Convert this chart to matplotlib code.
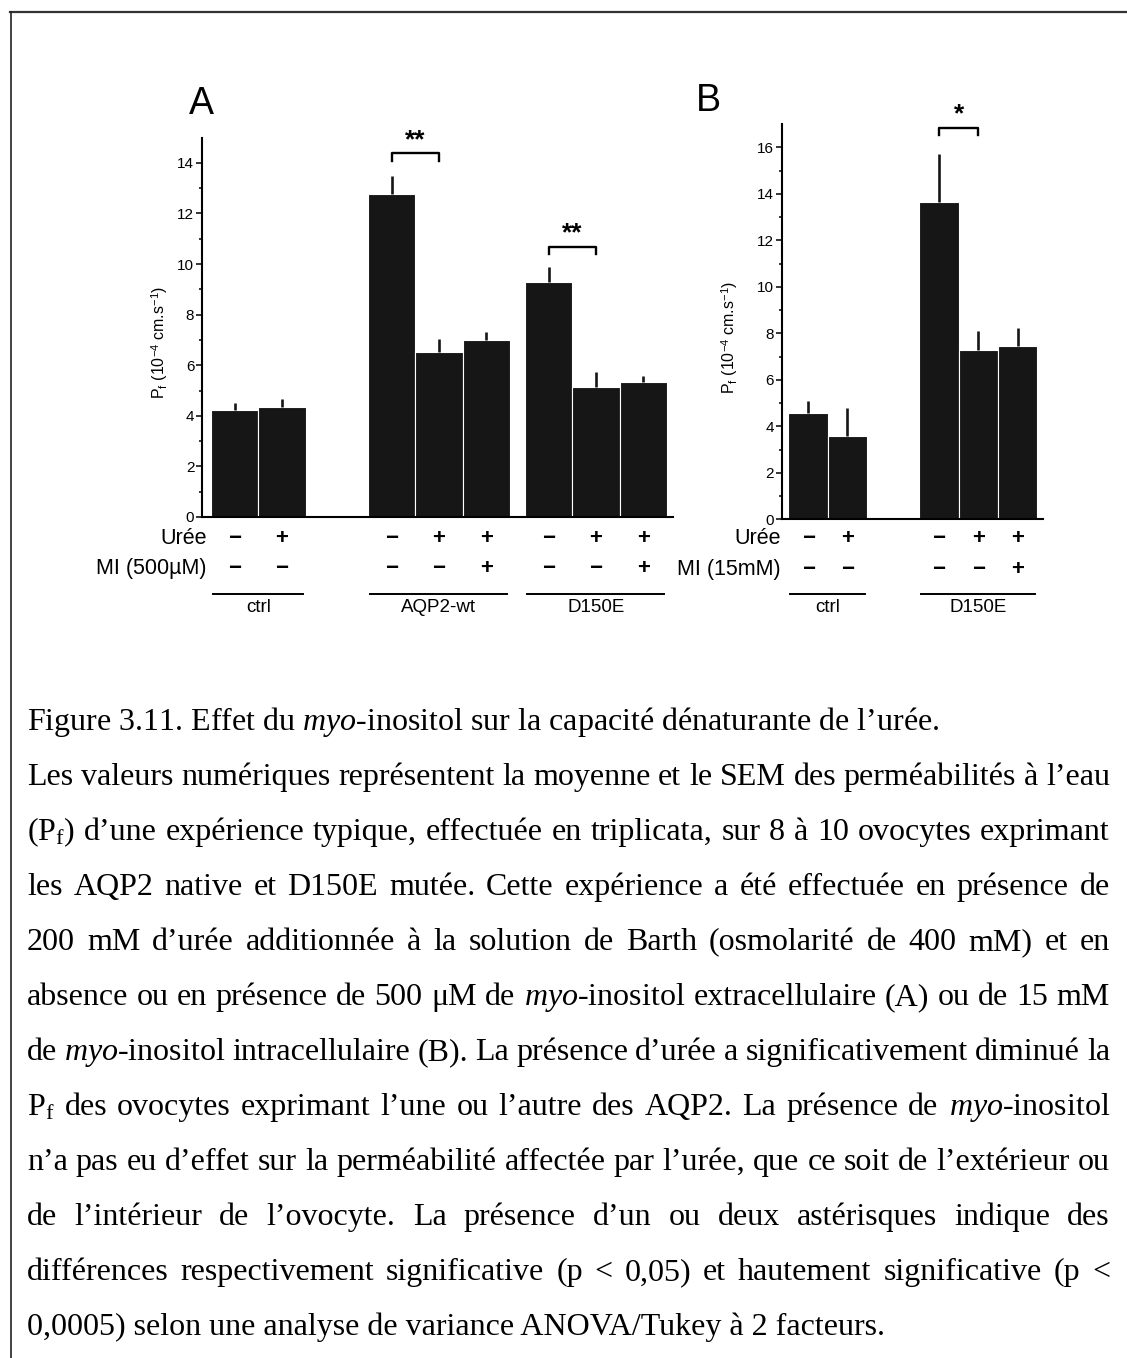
import numpy as np
import matplotlib
matplotlib.use("Agg")
import matplotlib.pyplot as plt
import matplotlib.transforms as mtransforms
from matplotlib.lines import Line2D

plt.rcParams["font.family"] = ["Liberation Sans", "DejaVu Sans"]
plt.rcParams["mathtext.fontset"] = "custom"
plt.rcParams["mathtext.rm"] = "Liberation Serif"
plt.rcParams["mathtext.it"] = "Liberation Serif:italic"

# --- panel A: extracellular myo-inositol (500 uM) ---
groups_a = ["ctrl", "AQP2-wt", "D150E"]
group_sizes_a = [2, 3, 3]
pf_a = [4.22, 4.35, 12.77, 6.53, 6.98, 9.28, 5.15, 5.35]
sem_a = [0.30, 0.30, 0.70, 0.50, 0.35, 0.60, 0.58, 0.22]
uree_a = ["−", "+", "−", "+", "+", "−", "+", "+"]
mi_a = ["−", "−", "−", "−", "+", "−", "−", "+"]
sig_a = [(2, 3, 14.37, "**"), (5, 6, 10.68, "**")]

# --- panel B: intracellular myo-inositol (15 mM) ---
groups_b = ["ctrl", "D150E"]
group_sizes_b = [2, 3]
pf_b = [4.58, 3.58, 13.63, 7.28, 7.45]
sem_b = [0.52, 1.22, 2.08, 0.83, 0.79]
uree_b = ["−", "+", "−", "+", "+"]
mi_b = ["−", "−", "−", "−", "+"]
sig_b = [(2, 3, 16.84, "*")]

caption = [
    r"Figure 3.11. Effet du $\mathit{myo}$-inositol sur la capacité dénaturante de l’urée.",
    "Les valeurs numériques représentent la moyenne et le SEM des perméabilités à l’eau",
    r"(P$_\mathregular{f}$) d’une expérience typique, effectuée en triplicata, sur 8 à 10 ovocytes exprimant",
    "les AQP2 native et D150E mutée. Cette expérience a été effectuée en présence de",
    "200 mM d’urée additionnée à la solution de Barth (osmolarité de 400 mM) et en",
    r"absence ou en présence de 500 μM de $\mathit{myo}$-inositol extracellulaire (A) ou de 15 mM",
    r"de $\mathit{myo}$-inositol intracellulaire (B). La présence d’urée a significativement diminué la",
    r"P$_\mathregular{f}$ des ovocytes exprimant l’une ou l’autre des AQP2. La présence de $\mathit{myo}$-inositol",
    "n’a pas eu d’effet sur la perméabilité affectée par l’urée, que ce soit de l’extérieur ou",
    "de l’intérieur de l’ovocyte. La présence d’un ou deux astérisques indique des",
    "différences respectivement significative (p < 0,05) et hautement significative (p <",
    "0,0005) selon une analyse de variance ANOVA/Tukey à 2 facteurs.",
]

W, H = 1127, 1358
BAR = "#161616"
YLABEL = r"P$_\mathregular{f}$ (10$^{\mathregular{-4}}$ cm.s$^{\mathregular{-1}}$)"

fig = plt.figure(figsize=(W / 100, H / 100), dpi=100)


def fx(px):
    return px / W


def fy(py):
    return 1 - py / H


def positions(sizes, gaps):
    pos, x = [], 0.0
    for n, g in zip(sizes, gaps):
        x += g
        for _ in range(n):
            pos.append(x)
            x += 1
    return np.array(pos)


def bar_panel(ax, x, vals, errs, ymax, ylab_xy):
    ax.bar(x, vals, width=1.0, color=BAR, edgecolor="white", linewidth=0.8, zorder=2)
    ax.vlines(x, vals, np.array(vals) + np.array(errs), color=BAR, lw=1.9, zorder=3)
    ax.set_ylim(0, ymax)
    ax.set_yticks(np.arange(0, ymax, 2))
    ax.set_yticks(np.arange(1, ymax, 2), minor=True)
    ax.set_xticks([])
    for s in ["top", "right"]:
        ax.spines[s].set_visible(False)
    for s in ["left", "bottom"]:
        ax.spines[s].set_linewidth(1.5)
    ax.tick_params(axis="y", which="major", length=4, width=1.1, labelsize=11, pad=1.5)
    ax.tick_params(axis="y", which="minor", length=2.5, width=1.1)
    ax.text(*ylab_xy, YLABEL, transform=ax.transAxes, rotation=90,
            ha="center", va="center", fontsize=11.5)


def significance(ax, x, specs, drop):
    for i, j, y, label in specs:
        ax.plot([x[i], x[i], x[j], x[j]], [y - drop, y, y, y - drop],
                color="black", lw=1.7, clip_on=False)
        off = mtransforms.offset_copy(ax.transData, fig=fig, y=13, units="dots")
        ax.text((x[i] + x[j]) / 2, y, label, transform=off, ha="center",
                va="center", fontsize=19, fontweight="bold", clip_on=False)


def design_rows(ax, x, sizes, names, rows, row_labels, label_right, line_y, name_y):
    tr = mtransforms.blended_transform_factory(ax.transData, fig.transFigure)
    for (signs, ypx), lab in zip(rows, row_labels):
        for xi, s in zip(x, signs):
            ax.text(xi, fy(ypx), s, transform=tr, ha="center", va="center",
                    fontsize=16, fontweight="bold", clip_on=False)
        fig.text(fx(label_right), fy(ypx), lab, ha="right", va="center", fontsize=15.5)
    k = 0
    for n, name in zip(sizes, names):
        x0, x1 = x[k] - 0.45, x[k + n - 1] + 0.45
        ax.add_line(Line2D([x0, x1], [fy(line_y)] * 2, transform=tr, color="black",
                           lw=1.4, clip_on=False))
        ax.text((x0 + x1) / 2, fy(name_y), name, transform=tr, ha="center",
                va="center", fontsize=13.5, clip_on=False)
        k += n


# panel A
xa = positions(group_sizes_a, [0, 1.32, 0.32])
ax_a = fig.add_axes([fx(202), fy(517), fx(471), 379.5 / H])
bar_panel(ax_a, xa, pf_a, sem_a, 15, (-0.091, 0.46))
ax_a.set_xlim(-0.69, 9.27)
significance(ax_a, xa, sig_a, 0.3)
design_rows(ax_a, xa, group_sizes_a, groups_a,
            [(uree_a, 539), (mi_a, 568)], ["Urée", "MI (500µM)"], 207, 594, 607)
fig.text(fx(201), fy(104), "A", ha="center", va="center", fontsize=27)

# panel B
xb = positions(group_sizes_b, [0, 1.32])
ax_b = fig.add_axes([fx(781.7), fy(519.3), fx(261.6), 395.25 / H])
bar_panel(ax_b, xb, pf_b, sem_b, 17, (-0.20, 0.459))
ax_b.set_xlim(-0.67, 5.97)
significance(ax_b, xb, sig_b, 0.31)
design_rows(ax_b, xb, group_sizes_b, groups_b,
            [(uree_b, 539), (mi_b, 569)], ["Urée", "MI (15mM)"], 781, 594, 607)
fig.text(fx(708), fy(101), "B", ha="center", va="center", fontsize=27)

# page frame around the figure
fig.add_artist(Line2D([fx(10), 1], [fy(11.5)] * 2, transform=fig.transFigure,
                      color="#333333", lw=1.6))
fig.add_artist(Line2D([fx(10.5)] * 2, [fy(11.5), 0], transform=fig.transFigure,
                      color="#222222", lw=1.2))

# justified caption block
renderer = fig.canvas.get_renderer()
left, right, base, step = 27, 1110, 730, 55
for n, line in enumerate(caption):
    y = fy(base + n * step)
    style = dict(fontsize=23, family="Liberation Serif", va="baseline", ha="left")
    if n == 0 or n == len(caption) - 1:
        fig.text(fx(left), y, line, **style)
        continue
    words = line.split(" ")
    texts = [fig.text(0, y, w, **style) for w in words]
    widths = [t.get_window_extent(renderer).width for t in texts]
    gap = (right - left - sum(widths)) / (len(words) - 1)
    xpos = left
    for t, w in zip(texts, widths):
        t.set_x(fx(xpos))
        xpos += w + gap

fig.savefig("out.png", dpi=100)
